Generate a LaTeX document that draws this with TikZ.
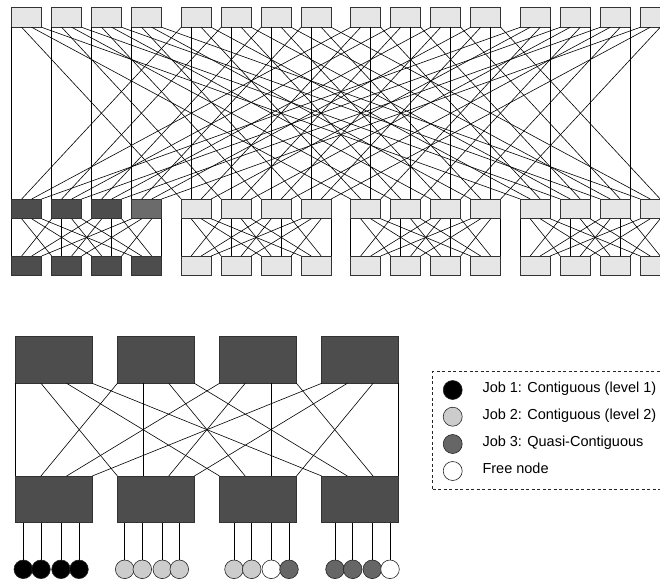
\documentclass[tikz,border=0pt]{standalone}
\usepackage{fontspec}
\setmainfont{Liberation Sans}
\usetikzlibrary{calc}
\definecolor{lightbox}{HTML}{E6E6E6}
\definecolor{darkbox}{HTML}{4D4D4D}
\definecolor{midbox}{HTML}{6B6B6B}
\definecolor{jobtwo}{HTML}{CCCCCC}
\definecolor{jobthree}{HTML}{666666}
\begin{document}
\begin{tikzpicture}[x=1pt,y=-1pt,
  sw/.style={draw=black!80, line width=0.7pt, minimum width=30pt, minimum height=19.8pt,
    inner sep=0pt, outer sep=0pt, anchor=north west},
  bigsw/.style={draw=black!80, fill=darkbox, line width=0.7pt, minimum width=77pt,
    minimum height=46.6pt, inner sep=0pt, outer sep=0pt, anchor=north west},
  link/.style={line width=0.6pt, black},
  host/.style={circle, draw=black!85, line width=0.6pt, minimum size=18.6pt,
    inner sep=0pt, outer sep=0pt},
  legcirc/.style={circle, draw=black!85, line width=0.6pt, minimum size=19pt,
    inner sep=0pt, outer sep=0pt},
  legtext/.style={anchor=base west, inner sep=0pt, font=\fontsize{14.5}{17}\selectfont},
  legframe/.style={draw=black!85, line width=0.6pt, dash pattern=on 3pt off 2.5pt,
    anchor=north west, minimum width=250pt, minimum height=117.3pt, inner sep=0pt, outer sep=0pt}
]
\useasboundingbox (0,0) rectangle (660,578);
\clip (0,0) rectangle (660,578);

% ---------- upper fat tree ----------
\foreach \g in {0,...,3}{
  \foreach \i in {0,...,3}{
    \node[sw, fill=lightbox] (c\g\i) at ({11.7+169.5*\g+40*\i}, 7.5) {};
  }
}
\foreach \p in {0,...,3}{
  \foreach \i in {0,...,3}{
    \ifnum\p=0
      \ifnum\i=3
        \node[sw, fill=midbox] (a\p\i) at ({11.7+169.5*\p+40*\i}, 199) {};
      \else
        \node[sw, fill=darkbox] (a\p\i) at ({11.7+169.5*\p+40*\i}, 199) {};
      \fi
      \node[sw, fill=darkbox] (e\p\i) at ({11.7+169.5*\p+40*\i}, 256) {};
    \else
      \node[sw, fill=lightbox] (a\p\i) at ({11.7+169.5*\p+40*\i}, 199) {};
      \node[sw, fill=lightbox] (e\p\i) at ({11.7+169.5*\p+40*\i}, 256) {};
    \fi
  }
}
% core -> aggregation
\foreach \g in {0,...,3}{
  \foreach \i in {0,...,3}{
    \foreach \p in {0,...,3}{
      \draw[link] ([xshift={\p*10pt}]c\g\i.south west) -- ([xshift={\g*10pt}]a\p\i.north west);
    }
  }
}
% aggregation -> edge
\foreach \p in {0,...,3}{
  \foreach \a in {0,...,3}{
    \foreach \e in {0,...,3}{
      \draw[link] ([xshift={\e*10pt}]a\p\a.south west) -- ([xshift={\a*10pt}]e\p\e.north west);
    }
  }
}

% ---------- lower network ----------
\node[bigsw] (T0) at (15.3,336.7) {};
\node[bigsw] (T1) at (117.4,336.7) {};
\node[bigsw] (T2) at (219.5,336.7) {};
\node[bigsw] (T3) at (321.7,336.7) {};
\node[bigsw] (B0) at (15.3,476) {};
\node[bigsw] (B1) at (117.4,476) {};
\node[bigsw] (B2) at (219.5,476) {};
\node[bigsw] (B3) at (321.7,476) {};
\foreach \t in {0,...,3}{
  \foreach \b in {0,...,3}{
    \draw[link] ([xshift={\b*77pt/3}]T\t.south west) -- ([xshift={\t*77pt/3}]B\b.north west);
  }
}

% hosts
\foreach \b/\x/\c [count=\k] in {
  0/23.3/black, 0/41/black, 0/61/black, 0/79/black,
  1/124.7/jobtwo, 1/142.3/jobtwo, 1/162.3/jobtwo, 1/179.3/jobtwo,
  2/234/jobtwo, 2/251.7/jobtwo, 2/271.3/white, 2/289/jobthree,
  3/335/jobthree, 3/352.7/jobthree, 3/372.3/jobthree, 3/390/white}{
  \node[host, fill=\c] (h\k) at (\x,569.3) {};
  \draw[link] (h\k.north) -- (h\k.north |- B\b.south);
}

% ---------- legend ----------
\node[legframe] (legend) at (432.7,371.7) {};
\node[legcirc, fill=black] (l1) at (452.7,390) {};
\node[legcirc, fill=jobtwo] (l2) at (452.7,416.7) {};
\node[legcirc, fill=jobthree] (l3) at (452.7,444) {};
\node[legcirc, fill=white] (l4) at (452.7,471) {};
\node[legtext] (t1) at (482.3,392.8) {Job 1: Contiguous (level 1)};
\node[legtext] (t2) at (482.3,419.5) {Job 2: Contiguous (level 2)};
\node[legtext] (t3) at (482.3,446.8) {Job 3: Quasi-Contiguous};
\node[legtext] (t4) at (482.3,473.8) {Free node};
\end{tikzpicture}
\end{document}
